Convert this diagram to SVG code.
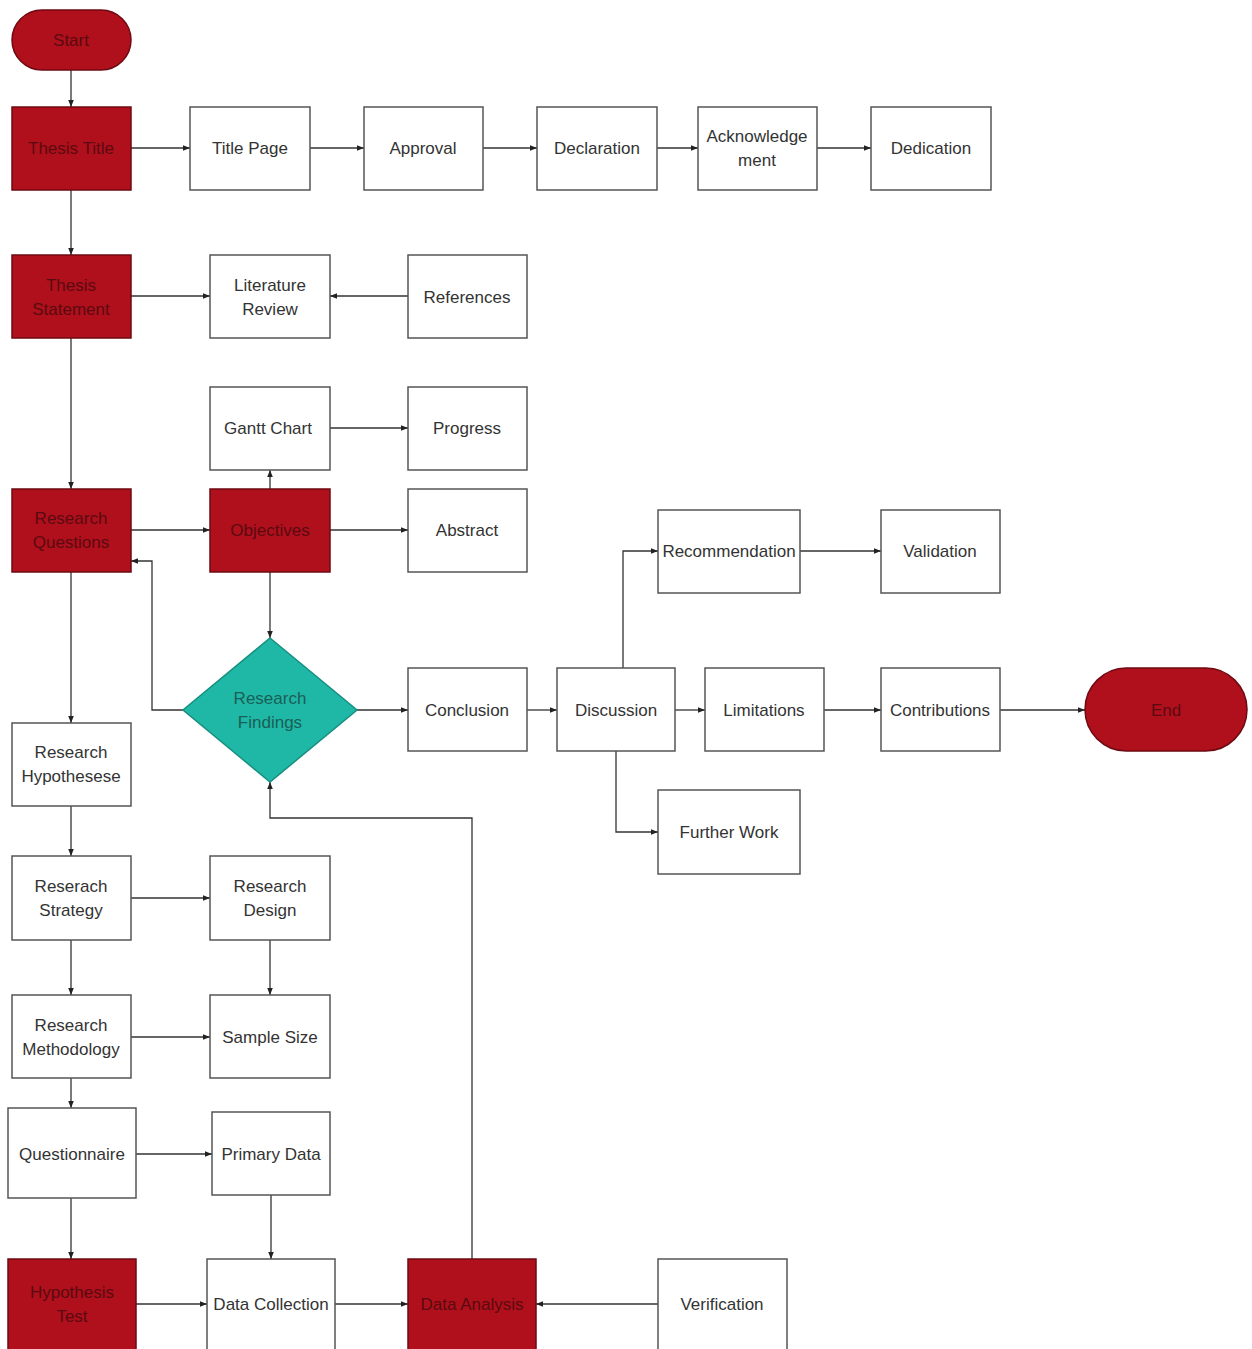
<svg xmlns="http://www.w3.org/2000/svg" width="1252" height="1349" viewBox="0 0 1252 1349">
<defs>
<marker id="ah" viewBox="0 0 10 10" refX="10" refY="5" markerWidth="7" markerHeight="7" orient="auto" markerUnits="userSpaceOnUse">
<path d="M0,1 L10,5 L0,9 z" fill="#222"/>
</marker>
<style>
.b{fill:#fff;stroke:#555;stroke-width:1.5}
.r{fill:#b0101c;stroke:#6e0a12;stroke-width:1.5}
.d{fill:#1fb8a6;stroke:#178f80;stroke-width:1.5}
.t{font-family:"Liberation Sans",Arial,sans-serif;font-size:17px;fill:#333;text-anchor:middle;dominant-baseline:central}
.rt{font-family:"Liberation Sans",Arial,sans-serif;font-size:17px;fill:#5a0a10;text-anchor:middle;dominant-baseline:central}
.dt{font-family:"Liberation Sans",Arial,sans-serif;font-size:17px;fill:#1a5f56;text-anchor:middle;dominant-baseline:central}
.c{fill:none;stroke:#333;stroke-width:1.3;marker-end:url(#ah)}
</style>
</defs>
<rect width="1252" height="1349" fill="#fff"/>
<g id="connectors">
<path class="c" d="M71,70 V107"/>
<path class="c" d="M131,148 H190"/>
<path class="c" d="M310,148 H364"/>
<path class="c" d="M483,148 H537"/>
<path class="c" d="M657,148 H698"/>
<path class="c" d="M817,148 H871"/>
<path class="c" d="M71,190 V255"/>
<path class="c" d="M131,296 H210"/>
<path class="c" d="M408,296 H330"/>
<path class="c" d="M71,338 V489"/>
<path class="c" d="M131,530 H210"/>
<path class="c" d="M270,489 V470"/>
<path class="c" d="M330,428 H408"/>
<path class="c" d="M330,530 H408"/>
<path class="c" d="M270,572 V638"/>
<path class="c" d="M183,710 H152 V561 H131"/>
<path class="c" d="M357,710 H408"/>
<path class="c" d="M527,710 H557"/>
<path class="c" d="M675,710 H705"/>
<path class="c" d="M824,710 H881"/>
<path class="c" d="M1000,710 H1085"/>
<path class="c" d="M623,668 V551 H658"/>
<path class="c" d="M800,551 H881"/>
<path class="c" d="M616,751 V832 H658"/>
<path class="c" d="M71,572 V723"/>
<path class="c" d="M71,806 V856"/>
<path class="c" d="M131,898 H210"/>
<path class="c" d="M270,940 V995"/>
<path class="c" d="M71,940 V995"/>
<path class="c" d="M131,1037 H210"/>
<path class="c" d="M71,1078 V1108"/>
<path class="c" d="M136,1154 H212"/>
<path class="c" d="M71,1198 V1259"/>
<path class="c" d="M271,1195 V1259"/>
<path class="c" d="M136,1304 H207"/>
<path class="c" d="M335,1304 H408"/>
<path class="c" d="M658,1304 H536"/>
<path class="c" d="M472,1259 V818 H270 V782"/>
</g>
<g id="start"><rect class="r" x="12" y="10" width="119" height="60" rx="30"/><text class="rt" x="71" y="40">Start</text></g>
<g id="thesis-title"><rect class="r" x="12" y="107" width="119" height="83"/><text class="rt" x="71" y="148">Thesis Title</text></g>
<g id="title-page"><rect class="b" x="190" y="107" width="120" height="83"/><text class="t" x="250" y="148">Title Page</text></g>
<g id="approval"><rect class="b" x="364" y="107" width="119" height="83"/><text class="t" x="423" y="148">Approval</text></g>
<g id="declaration"><rect class="b" x="537" y="107" width="120" height="83"/><text class="t" x="597" y="148">Declaration</text></g>
<g id="acknowledgement"><rect class="b" x="698" y="107" width="119" height="83"/><text class="t" x="757" y="136">Acknowledge</text><text class="t" x="757" y="160">ment</text></g>
<g id="dedication"><rect class="b" x="871" y="107" width="120" height="83"/><text class="t" x="931" y="148">Dedication</text></g>
<g id="thesis-statement"><rect class="r" x="12" y="255" width="119" height="83"/><text class="rt" x="71" y="285">Thesis</text><text class="rt" x="71" y="309">Statement</text></g>
<g id="literature-review"><rect class="b" x="210" y="255" width="120" height="83"/><text class="t" x="270" y="285">Literature</text><text class="t" x="270" y="309">Review</text></g>
<g id="references"><rect class="b" x="408" y="255" width="119" height="83"/><text class="t" x="467" y="297">References</text></g>
<g id="gantt-chart"><rect class="b" x="210" y="387" width="120" height="83"/><text class="t" x="268" y="428">Gantt Chart</text></g>
<g id="progress"><rect class="b" x="408" y="387" width="119" height="83"/><text class="t" x="467" y="428">Progress</text></g>
<g id="research-questions"><rect class="r" x="12" y="489" width="119" height="83"/><text class="rt" x="71" y="518">Research</text><text class="rt" x="71" y="542">Questions</text></g>
<g id="objectives"><rect class="r" x="210" y="489" width="120" height="83"/><text class="rt" x="270" y="530">Objectives</text></g>
<g id="abstract"><rect class="b" x="408" y="489" width="119" height="83"/><text class="t" x="467" y="530">Abstract</text></g>
<g id="research-findings"><polygon class="d" points="270,638 357,710 270,782 183,710"/><text class="dt" x="270" y="698">Research</text><text class="dt" x="270" y="722">Findings</text></g>
<g id="conclusion"><rect class="b" x="408" y="668" width="119" height="83"/><text class="t" x="467" y="710">Conclusion</text></g>
<g id="discussion"><rect class="b" x="557" y="668" width="118" height="83"/><text class="t" x="616" y="710">Discussion</text></g>
<g id="limitations"><rect class="b" x="705" y="668" width="119" height="83"/><text class="t" x="764" y="710">Limitations</text></g>
<g id="contributions"><rect class="b" x="881" y="668" width="119" height="83"/><text class="t" x="940" y="710">Contributions</text></g>
<g id="end"><rect class="r" x="1085" y="668" width="162" height="83" rx="41.5"/><text class="rt" x="1166" y="710">End</text></g>
<g id="recommendation"><rect class="b" x="658" y="510" width="142" height="83"/><text class="t" x="729" y="551">Recommendation</text></g>
<g id="validation"><rect class="b" x="881" y="510" width="119" height="83"/><text class="t" x="940" y="551">Validation</text></g>
<g id="further-work"><rect class="b" x="658" y="790" width="142" height="84"/><text class="t" x="729" y="832">Further Work</text></g>
<g id="research-hypothesese"><rect class="b" x="12" y="723" width="119" height="83"/><text class="t" x="71" y="752">Research</text><text class="t" x="71" y="776">Hypothesese</text></g>
<g id="reserach-strategy"><rect class="b" x="12" y="856" width="119" height="84"/><text class="t" x="71" y="886">Reserach</text><text class="t" x="71" y="910">Strategy</text></g>
<g id="research-design"><rect class="b" x="210" y="856" width="120" height="84"/><text class="t" x="270" y="886">Research</text><text class="t" x="270" y="910">Design</text></g>
<g id="research-methodology"><rect class="b" x="12" y="995" width="119" height="83"/><text class="t" x="71" y="1025">Research</text><text class="t" x="71" y="1049">Methodology</text></g>
<g id="sample-size"><rect class="b" x="210" y="995" width="120" height="83"/><text class="t" x="270" y="1037">Sample Size</text></g>
<g id="questionnaire"><rect class="b" x="8" y="1108" width="128" height="90"/><text class="t" x="72" y="1154">Questionnaire</text></g>
<g id="primary-data"><rect class="b" x="212" y="1112" width="118" height="83"/><text class="t" x="271" y="1154">Primary Data</text></g>
<g id="hypothesis-test"><rect class="r" x="8" y="1259" width="128" height="92"/><text class="rt" x="72" y="1292">Hypothesis</text><text class="rt" x="72" y="1316">Test</text></g>
<g id="data-collection"><rect class="b" x="207" y="1259" width="128" height="92"/><text class="t" x="271" y="1304">Data Collection</text></g>
<g id="data-analysis"><rect class="r" x="408" y="1259" width="128" height="92"/><text class="rt" x="472" y="1304">Data Analysis</text></g>
<g id="verification"><rect class="b" x="658" y="1259" width="129" height="92"/><text class="t" x="722" y="1304">Verification</text></g>
</svg>
